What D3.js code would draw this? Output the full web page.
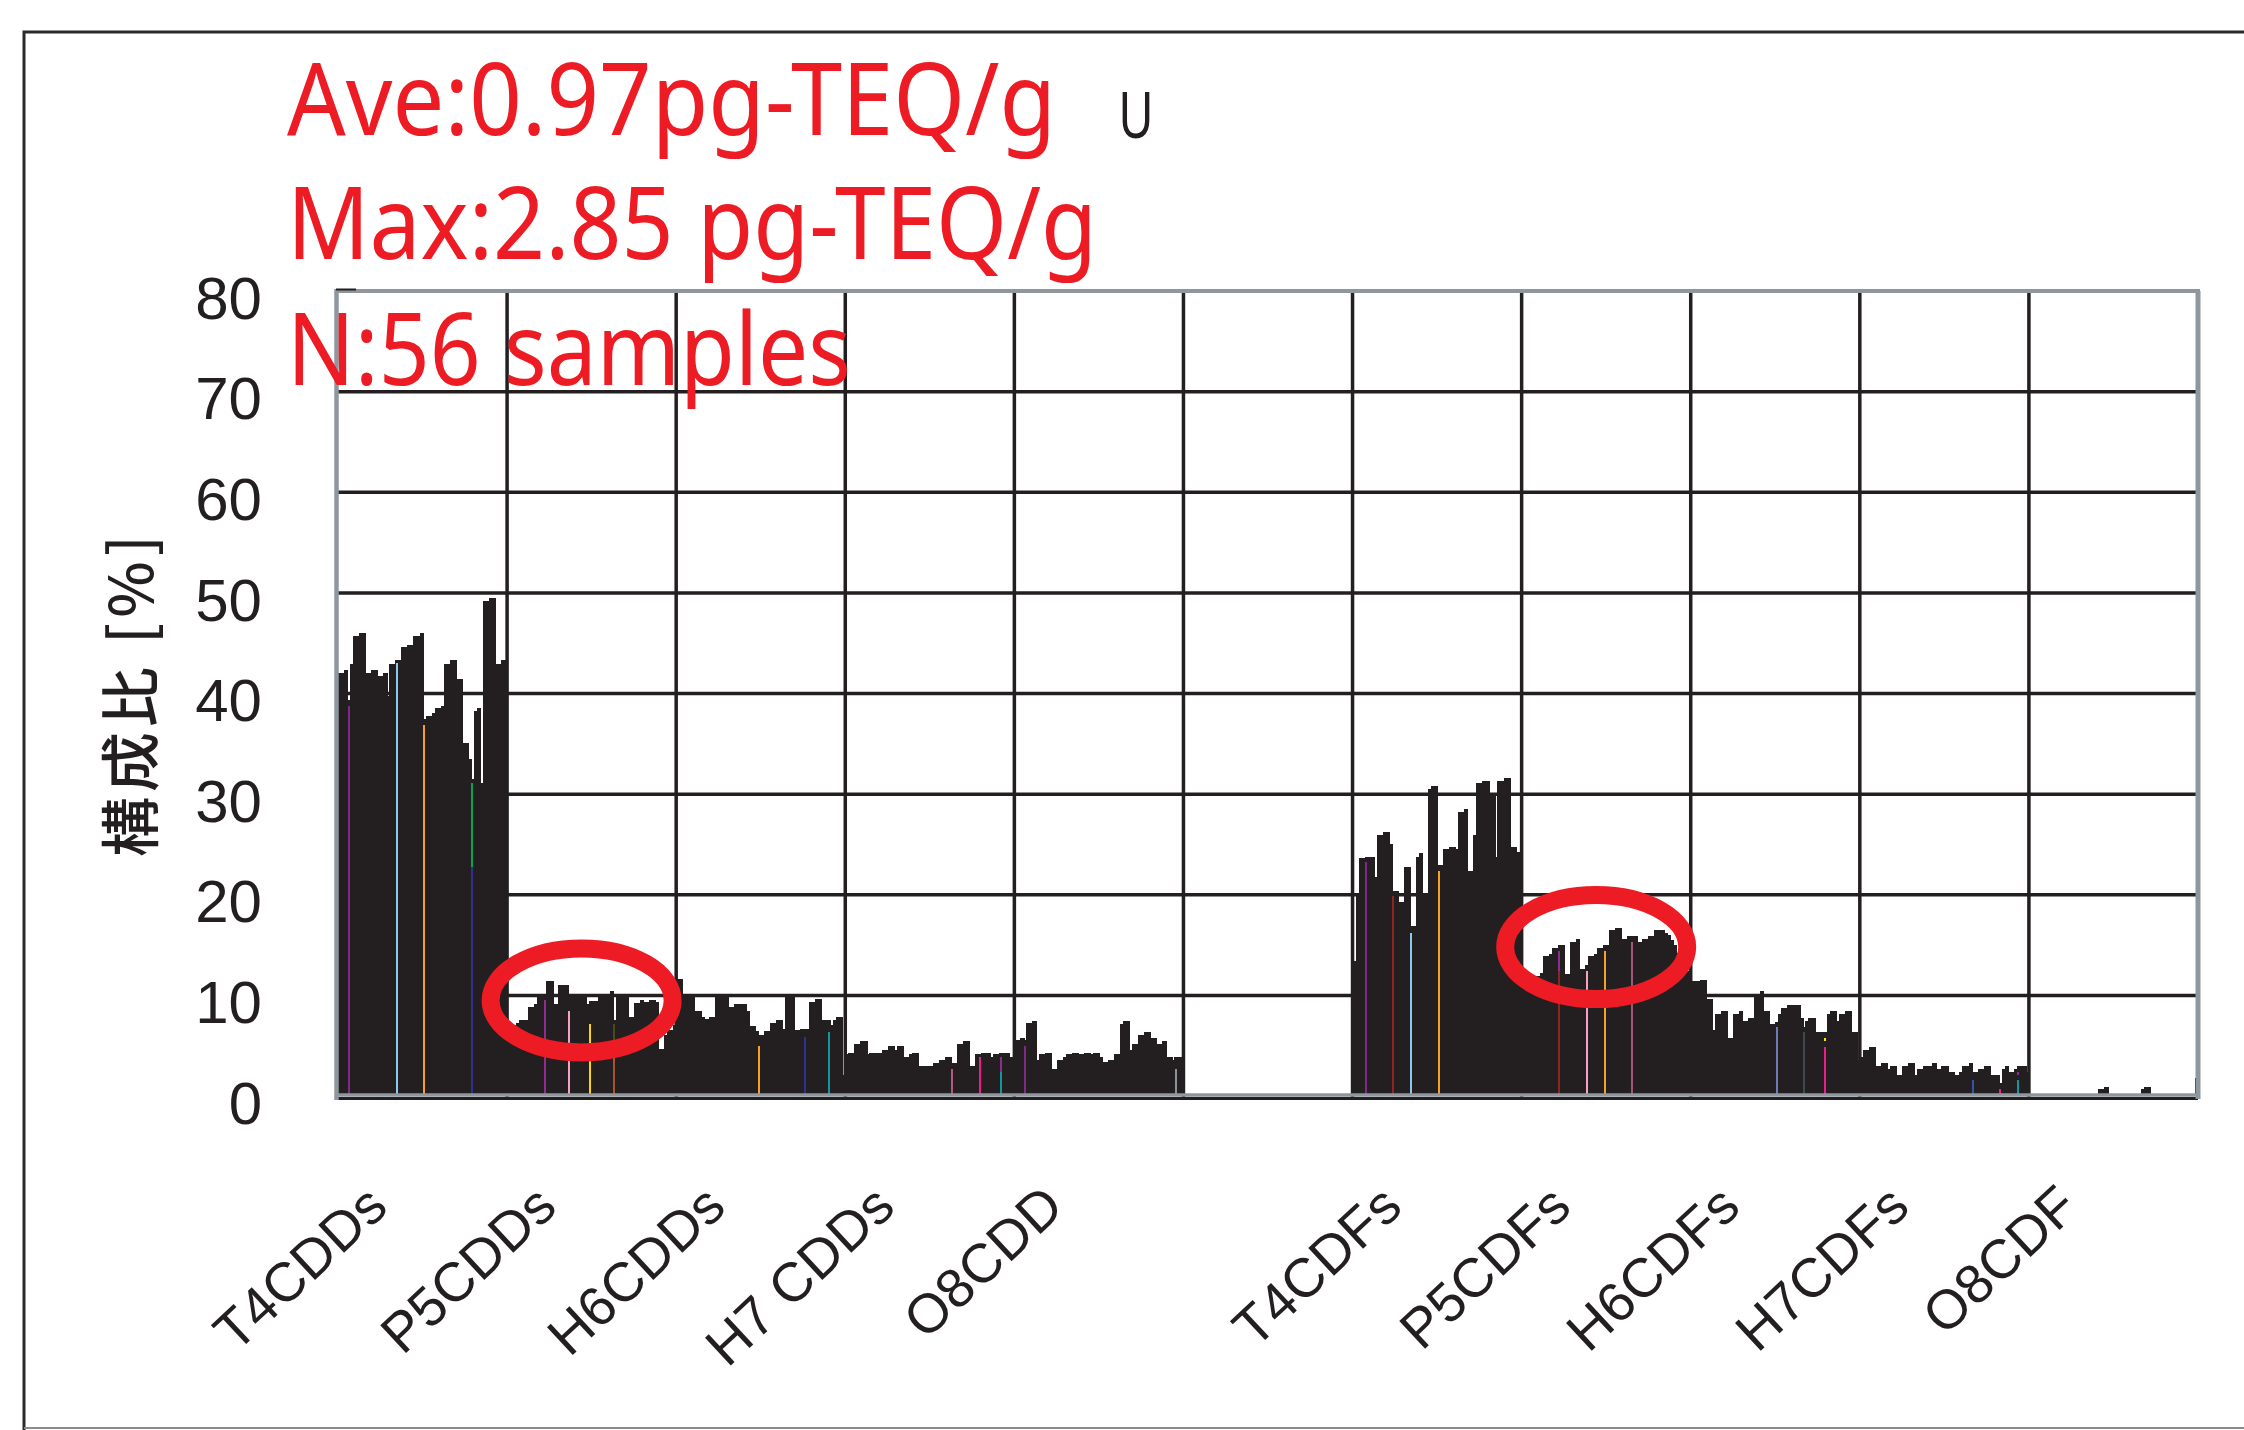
<!DOCTYPE html>
<html>
<head>
<meta charset="utf-8">
<script src="https://cdn.jsdelivr.net/npm/d3@7"></script>
<style>
  html, body { margin: 0; padding: 0; background: #ffffff; }
  svg { display: block; }
</style>
</head>
<body>
<script>
// ---------------- DATA ----------------
const groups = ["T4CDDs", "P5CDDs", "H6CDDs", "H7 CDDs", "O8CDD", "", "T4CDFs", "P5CDFs", "H6CDFs", "H7CDFs", "O8CDF"];

const t4cdds = [42.0,42.0,42.3,39.4,42.9,45.7,45.7,46.0,46.0,42.0,42.0,42.3,42.3,41.7,41.7,42.0,39.8,42.9,42.9,43.3,
                43.3,44.6,44.6,44.8,44.8,45.7,45.7,46.0,37.5,37.8,37.8,38.1,38.6,38.6,38.8,42.9,42.9,43.3,43.3,41.4,
                41.4,35.1,35.1,33.5,31.5,38.3,38.6,31.1,49.2,49.2,49.5,49.5,42.9,42.9,43.3,43.3];
const p5cdds = [7.1,7.1,7.1,7.3,7.6,7.6,7.6,8.8,8.8,9.1,9.9,9.9,9.9,11.4,11.4,9.1,9.1,11.0,11.0,11.0,
                9.9,9.9,9.9,9.9,9.9,9.9,9.1,9.4,9.4,9.4,9.9,9.9,9.9,9.9,10.4,7.6,9.9,9.9,9.9,9.9,
                7.9,7.9,9.2,9.2,9.5,9.3,9.3,9.5,9.5,9.3,4.7,4.7,6.1,6.6,6.6,7.1];
const h6cdds = [11.6,11.6,9.9,9.9,9.9,9.9,8.4,8.4,7.9,7.7,7.7,7.9,7.9,9.9,9.9,9.9,9.9,8.8,8.8,9.1,
                9.1,9.1,9.1,8.4,7.0,7.0,6.5,6.1,6.1,6.5,6.5,7.3,7.3,7.6,7.6,6.7,9.9,9.9,9.9,6.6,
                6.6,6.7,6.7,6.7,9.3,9.3,9.6,9.6,7.6,7.6,7.6,7.1,7.6,7.9,7.9,2.1];
const h7cdds = [4.2,4.3,4.3,5.2,5.2,5.5,5.5,4.2,4.3,4.3,4.3,4.3,4.6,4.6,5.0,5.0,4.6,5.0,5.0,3.9,
                3.9,4.2,4.3,4.3,3.0,3.0,3.0,3.0,3.0,3.3,3.3,3.6,3.6,3.9,3.9,3.3,3.3,5.2,5.2,5.5,
                5.5,3.0,3.0,4.2,4.2,4.3,4.3,4.3,3.9,4.2,4.2,4.3,4.3,4.3,3.9,3.0];
const o8cdd  = [5.6,5.6,5.8,5.6,7.3,7.3,7.5,3.6,4.2,4.2,4.3,4.3,2.7,2.7,3.6,3.6,3.9,4.2,4.2,4.3,
                4.3,4.2,4.2,4.3,4.3,4.2,4.3,4.3,3.9,3.4,3.4,3.6,3.6,4.2,4.2,7.2,7.5,7.5,4.6,5.2,
                5.2,6.1,6.1,6.4,6.4,5.8,5.8,5.2,5.2,5.5,3.9,3.9,3.6,3.9,3.9,3.9];
const blank  = [];
const t4cdfs = [13.4,19.9,23.7,23.7,23.8,23.8,23.8,21.8,25.9,25.9,26.2,26.2,25.0,20.4,20.4,19.3,19.3,22.8,22.8,16.9,
                16.9,23.8,24.1,19.9,19.9,30.5,30.8,30.8,23.0,23.0,24.5,24.5,24.7,24.7,24.5,28.2,28.2,28.5,22.4,22.4,
                25.9,31.1,31.1,31.3,31.3,29.8,29.8,23.8,31.3,31.3,31.6,31.6,24.7,24.7,24.2,24.2];
const p5cdfs = [12.2,12.2,11.9,11.9,11.9,11.9,12.2,13.9,13.9,14.1,14.7,14.7,15.0,15.0,12.1,12.1,15.3,15.3,15.6,12.6,
                12.6,13.0,13.9,13.9,14.1,14.7,14.7,15.0,15.0,16.5,16.5,16.7,16.7,15.6,15.6,15.9,15.9,15.9,15.3,15.3,
                15.6,15.6,15.9,15.9,16.5,16.5,16.5,16.2,16.0,15.5,15.0,14.2,13.5,12.4,12.4,11.4];
const h6cdfs = [11.4,11.4,11.4,11.5,11.5,9.6,9.6,6.6,8.1,8.1,8.4,8.4,5.8,5.8,8.1,8.1,8.4,7.5,7.5,7.8,
                7.8,10.1,10.1,10.4,8.4,8.4,7.2,7.2,7.4,8.1,8.7,8.7,9.0,9.0,9.0,9.0,7.8,6.9,7.5,7.8,
                7.8,6.4,6.4,6.4,6.4,8.1,8.4,8.4,7.5,8.1,8.1,8.4,8.4,6.4,6.4,3.6];
const h7cdfs = [3.9,4.6,4.6,4.9,4.9,3.0,3.0,3.3,3.3,2.7,3.0,3.0,2.1,2.1,3.0,3.0,3.3,3.3,2.1,2.7,
                2.7,3.0,3.0,3.0,3.3,2.7,2.7,3.0,3.0,2.4,2.4,2.1,2.1,2.4,3.0,3.0,3.3,2.4,2.4,2.7,
                2.7,3.0,3.0,2.1,2.1,2.1,1.3,2.7,3.0,2.4,2.4,2.7,3.0,3.0,3.0,2.4];
const o8cdf  = [0,0,0,0,0,0,0,0,0,0,0,0,0,0,0,0,0,0,0,0,
                0,0,0,0.7,0.7,0.9,0,0,0,0,0,0,0,0,0,0,0,0.7,0.9,0.9,
                0,0,0,0,0,0,0,0,0,0,0,0,0,0,0,1.8];
const groupValues = [t4cdds, p5cdds, h6cdds, h7cdds, o8cdd, blank, t4cdfs, p5cdfs, h6cdfs, h7cdfs, o8cdf];
const nSamples = 56;

// individually coloured sample bars (group index, sample index, top value, base value, colour)
const markerGroup  = [0, 0, 0, 0, 0,  1, 1, 1, 1, 1,  2, 2, 2,  3, 3, 3, 3,  4, 4,  6, 6, 6, 6,  7, 7, 7, 7, 7,  8, 8, 8, 8,  9, 9, 9, 9];
const markerSample = [3,19,28,44,44, 12,20,27,35,35, 27,42,50, 35,44,51,51,  3,53,  4,13,19,28, 12,12,21,27,36, 28,37,44,44, 37,46,52,52];
const markerValue  = [38.8,43.0,36.9,31.1,22.8, 9.5,8.4,7.2,7.2,5.6, 5.0,5.9,6.4, 2.7,3.9,3.9,2.4, 5.0,2.7,
                      23.3,19.9,16.2,22.4, 14.4,12.4,12.4,14.4,15.3, 6.9,6.4,5.8,4.9, 1.6,0.7,2.4,1.6];
const markerBase   = [0,0,0,0,0, 0,0,0,0,0, 0,0,0, 0,0,0,0, 0,0, 0,0,0,0, 0,0,0,0,0, 0,0,5.5,0, 0,0,2.05,0];
const markerColor  = ["#7d2b86","#8cc8ec","#f6a11f","#00a651","#2e3192",
                      "#8e2d8f","#f4a3c4","#ffd400","#4a4a1c","#a4552c",
                      "#f6a11f","#2e3192","#12979d",
                      "#b05a80","#ec1c8c","#8e2d8f","#12979d",
                      "#7d2b86","#8c9196",
                      "#7d2b86","#8b2620","#8cc8ec","#f6a11f",
                      "#8e2d8f","#8b2620","#f4a3c4","#f6a11f","#a35678",
                      "#6b7db7","#3e494d","#ffe100","#ec1c8c",
                      "#3853a4","#ec1c8c","#8e2d8f","#12979d"];

const yTicks = [0, 10, 20, 30, 40, 50, 60, 70, 80];
const yTitle = "構成比 [%]";
const notes = ["Ave:0.97pg-TEQ/g", "Max:2.85 pg-TEQ/g", "N:56 samples"];
const noteWidths = [769, 810, 564];
const extraMark = "U";
// ellipses highlight: group index and value of centre
const ringGroup  = [1, 7];
const ringCenter = [9.5, 14.8];

// ---------------- DRAW ----------------
const W = 2244, H = 1430;
const svg = d3.select("body").append("svg").attr("width", W).attr("height", H)
  .style("font-family", "'Liberation Sans', Arial, sans-serif");

const left = 338, right = 2198;
const x = d3.scaleBand().domain(d3.range(groups.length)).range([left, right]).padding(0);
const xs = d3.scaleBand().domain(d3.range(nSamples)).range([0, x.bandwidth()]).padding(0);
const y = d3.scaleLinear().domain([0, 80]).range([1096, 291]);

const BAR = "#231f20";
const GRAY = "#8f979e";

// outer frame
svg.append("path").attr("d", `M24,${H + 5} V32 H${W + 5}`).attr("fill", "none")
  .attr("stroke", "#2b2b2b").attr("stroke-width", 3);
svg.append("line").attr("x1", 24).attr("x2", W).attr("y1", 1428).attr("y2", 1428)
  .attr("stroke", "#8a8a8a").attr("stroke-width", 2);

// grid (beneath bars)
const grid = svg.append("g");
grid.selectAll("line.h").data(yTicks.filter(t => t > 0 && t < 80)).join("line")
  .attr("x1", left).attr("x2", right).attr("y1", d => y(d)).attr("y2", d => y(d))
  .attr("stroke", BAR).attr("stroke-width", 3.5);
grid.selectAll("line.v").data(d3.range(1, groups.length)).join("line")
  .attr("x1", d => x(d)).attr("x2", d => x(d)).attr("y1", y(80)).attr("y2", y(0) + 2)
  .attr("stroke", BAR).attr("stroke-width", 3.5);

// bars
const barsG = svg.append("g").attr("shape-rendering", "crispEdges");
groupValues.forEach((vals, g) => {
  barsG.selectAll(null).data(vals).join("rect")
    .attr("x", (d, i) => x(g) + xs(i))
    .attr("width", xs.bandwidth() + 1.2)
    .attr("y", d => y(d))
    .attr("height", d => Math.max(0, y(0) - y(d)))
    .attr("fill", BAR);
});

// coloured sample lines
const markers = markerGroup.map((g, k) => ({ g, i: markerSample[k], v: markerValue[k], b: markerBase[k], c: markerColor[k] }));
svg.append("g").attr("shape-rendering", "crispEdges").selectAll("rect").data(markers).join("rect")
  .attr("x", d => Math.round(x(d.g) + xs(d.i) + xs.bandwidth() / 2 - 1))
  .attr("width", 2)
  .attr("y", d => y(d.v))
  .attr("height", d => y(d.b) - y(d.v))
  .attr("fill", d => d.c);

// axes frame
svg.append("line").attr("x1", left).attr("x2", right).attr("y1", y(0) + 2.5).attr("y2", y(0) + 2.5)
  .attr("stroke", BAR).attr("stroke-width", 3);
svg.append("line").attr("x1", left).attr("x2", right).attr("y1", y(0) - 1).attr("y2", y(0) - 1)
  .attr("stroke", GRAY).attr("stroke-width", 3.5);
svg.append("line").attr("x1", left).attr("x2", right + 2).attr("y1", y(80)).attr("y2", y(80))
  .attr("stroke", GRAY).attr("stroke-width", 4);
svg.append("line").attr("x1", right).attr("x2", right).attr("y1", y(80)).attr("y2", y(0) + 3)
  .attr("stroke", GRAY).attr("stroke-width", 5);
svg.append("line").attr("x1", left - 1.5).attr("x2", left - 1.5).attr("y1", y(80) - 2).attr("y2", y(0) + 4)
  .attr("stroke", GRAY).attr("stroke-width", 4.5);
svg.append("line").attr("x1", left - 2).attr("x2", left + 18).attr("y1", y(80) - 1.5).attr("y2", y(80) - 1.5)
  .attr("stroke", BAR).attr("stroke-width", 2);

// y axis labels
const yAxis = d3.axisLeft(y).tickValues(yTicks).tickSize(0).tickPadding(0);
const ya = svg.append("g").attr("transform", "translate(262,8)").call(yAxis);
ya.select(".domain").remove();
ya.selectAll("text").attr("font-size", 60).attr("fill", BAR)
  .attr("font-family", "'Liberation Sans', Arial, sans-serif");

// y title
svg.append("text").attr("transform", "translate(126,696) rotate(-90)")
  .attr("text-anchor", "middle").attr("dominant-baseline", "central")
  .attr("font-family", "'Noto Sans CJK JP', 'Noto Sans CJK SC', sans-serif")
  .attr("font-size", 60).attr("font-weight", 500).attr("fill", BAR)
  .attr("textLength", 322).attr("lengthAdjust", "spacing")
  .text(yTitle);

// x labels
svg.append("g").selectAll("text").data(groups.map((t, g) => ({ t, g })).filter(d => d.t))
  .join("text")
  .attr("transform", d => `translate(${x(d.g) + 52},1210) rotate(-43)`)
  .attr("text-anchor", "end")
  .attr("font-size", 55).attr("fill", BAR)
  .text(d => d.t);

// red rings
svg.append("g").selectAll("ellipse").data(ringGroup.map((g, k) => ({ g, v: ringCenter[k] }))).join("ellipse")
  .attr("cx", d => x(d.g) + x.bandwidth() / 2 - 10)
  .attr("cy", d => y(d.v))
  .attr("rx", 91).attr("ry", 52)
  .attr("fill", "none").attr("stroke", "#ed1c24").attr("stroke-width", 18);

// red annotations
svg.append("g").selectAll("text").data(notes).join("text")
  .attr("x", 287)
  .attr("y", (d, i) => [135, 259, 385][i])
  .attr("font-family", "'Noto Sans', 'Open Sans', sans-serif")
  .attr("font-size", 100).attr("fill", "#ed1c24")
  .attr("textLength", (d, i) => noteWidths[i]).attr("lengthAdjust", "spacingAndGlyphs")
  .text(d => d);

svg.append("text").attr("x", 1119).attr("y", 138)
  .attr("font-size", 66).attr("fill", BAR)
  .attr("textLength", 34).attr("lengthAdjust", "spacingAndGlyphs")
  .text(extraMark);
</script>
</body>
</html>
